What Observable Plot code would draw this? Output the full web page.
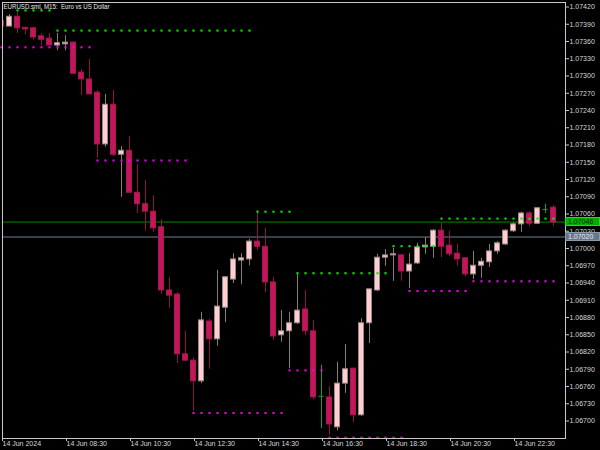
<!DOCTYPE html>
<html><head><meta charset="utf-8">
<script src="https://cdn.jsdelivr.net/npm/d3@7"></script>
<script src="https://cdn.jsdelivr.net/npm/@observablehq/plot@0.6"></script>
<style>
html,body{margin:0;padding:0;background:#000;}
#chart{width:600px;height:450px;overflow:hidden;}
</style></head><body><div id="chart"></div>
<script>
const title = "EURUSD.sml, M15:  Euro vs US Dollar";
const opens  = [1.07395,1.07386,1.07403,1.07384,1.07383,1.07369,1.07365,1.07353,1.07355,1.07358,
                1.07306,1.07294,1.07271,1.07181,1.07250,1.07163,1.07170,1.07097,1.07077,1.07064,
                1.07037,1.06927,1.06920,1.06816,1.06805,1.06769,1.06873,1.06842,1.06897,1.06946,
                1.06979,1.06981,1.07012,1.07003,1.06941,1.06849,1.06856,1.06870,1.06894,1.06856,
                1.06743,1.06741,1.06689,1.06765,1.06791,1.06710,1.06870,1.06927,1.06984,1.06988,
                1.06988,1.06960,1.06974,1.07002,1.07003,1.07031,1.07005,1.06991,1.06983,1.06955,
                1.06970,1.06976,1.06995,1.07007,1.07030,1.07042,1.07061,1.07043,1.07068,1.07071];
const highs  = [1.07398,1.07407,1.07410,1.07384,1.07383,1.07374,1.07374,1.07374,1.07370,1.07360,
                1.07311,1.07329,1.07275,1.07268,1.07275,1.07177,1.07195,1.07146,1.07118,1.07092,
                1.07050,1.06950,1.06923,1.06856,1.06810,1.06889,1.06877,1.06962,1.06950,1.06991,
                1.06991,1.07016,1.07066,1.07035,1.06950,1.06892,1.06889,1.06955,1.06927,1.06875,
                1.06797,1.06760,1.06802,1.06833,1.06791,1.06878,1.06929,1.06990,1.06998,1.07000,
                1.06990,1.06991,1.07009,1.07019,1.07033,1.07045,1.07030,1.07007,1.06984,1.06995,
                1.06983,1.07007,1.07012,1.07033,1.07045,1.07063,1.07064,1.07071,1.07077,1.07075];
const lows   = [1.07384,1.07386,1.07374,1.07372,1.07363,1.07353,1.07353,1.07344,1.07344,1.07303,
                1.07266,1.07268,1.07157,1.07176,1.07160,1.07089,1.07096,1.07061,1.07031,1.07028,
                1.06920,1.06896,1.06800,1.06803,1.06717,1.06765,1.06790,1.06830,1.06871,1.06939,
                1.06937,1.06970,1.06997,1.06923,1.06840,1.06837,1.06791,1.06868,1.06849,1.06737,
                1.06687,1.06675,1.06683,1.06748,1.06697,1.06708,1.06835,1.06925,1.06969,1.06943,
                1.06943,1.06930,1.06972,1.06990,1.06983,1.06984,1.06986,1.06969,1.06951,1.06946,
                1.06948,1.06967,1.06990,1.07005,1.07028,1.07028,1.07038,1.07042,1.07061,1.07038];
const closes = [1.07386,1.07403,1.07383,1.07381,1.07367,1.07363,1.07353,1.07357,1.07358,1.07304,
                1.07294,1.07268,1.07181,1.07250,1.07163,1.07170,1.07097,1.07077,1.07064,1.07035,
                1.06927,1.06918,1.06816,1.06805,1.06769,1.06875,1.06842,1.06899,1.06950,1.06981,
                1.06983,1.07012,1.07003,1.06941,1.06847,1.06856,1.06870,1.06892,1.06856,1.06741,
                1.06743,1.06694,1.06765,1.06790,1.06710,1.06870,1.06929,1.06984,1.06988,1.06990,
                1.06960,1.06972,1.07002,1.07005,1.07031,1.07003,1.06990,1.06981,1.06955,1.06970,
                1.06977,1.06995,1.07009,1.07031,1.07042,1.07061,1.07043,1.07070,1.07068,1.07045];
const timeTickBars   = [0, 8, 16, 24, 32, 40, 48, 56, 64];
const timeTickLabels = ["14 Jun 2024","14 Jun 08:30","14 Jun 10:30","14 Jun 12:30","14 Jun 14:30",
                        "14 Jun 16:30","14 Jun 18:30","14 Jun 20:30","14 Jun 22:30"];
const priceTicks = [1.06700,1.06730,1.06760,1.06790,1.06820,1.06850,1.06880,1.06910,1.06940,1.06970,
                    1.07000,1.07030,1.07060,1.07090,1.07120,1.07150,1.07180,1.07210,1.07240,1.07270,
                    1.07300,1.07330,1.07360,1.07390,1.07420];
// [first bar, last bar, level]
const resistanceLevels = [[2,6,1.07414],[7,31,1.07379],[32,36,1.07064],[37,48,1.06957],[49,54,1.07004],[55,69,1.07052]];
const supportLevels    = [[0,11,1.07350],[12,23,1.07153],[24,35,1.06714],[36,40,1.06788],[41,50,1.06671],[51,58,1.06926],[59,69,1.06943]];
const bidPrice = 1.07046;
const askPrice = 1.07020;

const bars = opens.map((o, i) => ({i, open: o, high: highs[i], low: lows[i], close: closes[i]}));
const up = bars.filter(d => d.close > d.open);
const down = bars.filter(d => d.close < d.open);
const doji = bars.filter(d => d.close === d.open);
const expand = lv => lv.flatMap(([a, b, p]) => d3.range(a, b + 1).map(i => ({i, p})));
const resDots = expand(resistanceLevels);
const supDots = expand(supportLevels);

const FONT = "'Liberation Sans', Arial, sans-serif";
const hw = 0.3125;
const chart = Plot.plot({
  width: 600, height: 450,
  marginLeft: 2, marginRight: 35, marginTop: 2, marginBottom: 12,
  style: {background: "#000", color: "#d0d0d0", fontFamily: FONT, fontSize: "7px"},
  x: {type: "linear", domain: [0.125, 70.5], label: null},
  y: {domain: [1.0666957, 1.0742783], label: null},
  marks: [
    Plot.ruleY([askPrice], {stroke: "#6f7f8f"}),
    Plot.ruleY([bidPrice], {stroke: "#008a00"}),
    Plot.ruleX(up, {x: "i", y1: "low", y2: "high", stroke: "#8c7c76", clip: true}),
    Plot.ruleX(down, {x: "i", y1: "low", y2: "high", stroke: "#8c1446", clip: true}),
    Plot.rect(up, {x1: d => d.i - hw, x2: d => d.i + hw, y1: "open", y2: "close", fill: "#ffcdd2", stroke: "#9a8a86", clip: true}),
    Plot.rect(down, {x1: d => d.i - hw, x2: d => d.i + hw, y1: "open", y2: "close", fill: "#c2185b", stroke: "#a8154f", clip: true}),
    Plot.ruleX(doji, {x: "i", y1: "low", y2: "high", stroke: "#1aa01a"}),
    Plot.ruleY(doji, {y: "open", x1: d => d.i - hw, x2: d => d.i + hw, stroke: "#1aa01a"}),
    Plot.dot(resDots, {x: "i", y: "p", symbol: "square", r: 1.2, fill: "#00ee00", stroke: null}),
    Plot.dot(supDots, {x: "i", y: "p", symbol: "square", r: 1.2, fill: "#ee00ee", stroke: null}),
    Plot.frame({stroke: "#c8c8c8"}),
    Plot.axisY(priceTicks, {anchor: "right", label: null, tickFormat: d3.format(".5f"), tickSize: 3, tickPadding: 1, stroke: "#c8c8c8", fill: "#d8d8d8", fontSize: 7}),
    Plot.axisX(timeTickBars, {anchor: "bottom", label: null, tickFormat: i => timeTickLabels[timeTickBars.indexOf(i)], textAnchor: "start", tickSize: 3, tickPadding: 0, dx: 1, stroke: "#c8c8c8", fill: "#d8d8d8", fontSize: 7}),
    Plot.text([title], {frameAnchor: "top-left", dx: 1, dy: 1, lineAnchor: "top", textAnchor: "start", fill: "#e8e8e8", fontSize: 7.5, className: "chart-title"})
  ]
});
document.getElementById("chart").appendChild(chart);
d3.select(chart).selectAll(".chart-title text").attr("textLength", 106).attr("lengthAdjust", "spacingAndGlyphs");

// price label boxes on the right axis
const ys = chart.scale("y");
const svg = d3.select(chart);
const boxes = [
  {p: askPrice, fill: "#66778a", border: "#8a9aaa", text: "#e6ecf2"},
  {p: bidPrice, fill: "#00b000", border: "#30d030", text: "#002000"}
];
const g = svg.append("g").attr("text-anchor", "start");
for (const b of boxes) {
  const yy = ys.apply(b.p);
  g.append("rect").attr("x", 565.5).attr("y", Math.round(yy) - 4.5).attr("width", 34).attr("height", 8)
    .attr("fill", b.fill).attr("stroke", b.border);
  g.append("text").attr("x", 568).attr("y", yy).attr("dy", "0.35em").attr("fill", b.text)
    .attr("font-family", FONT).attr("font-size", 7).text(d3.format(".5f")(b.p));
}
</script></body></html>
